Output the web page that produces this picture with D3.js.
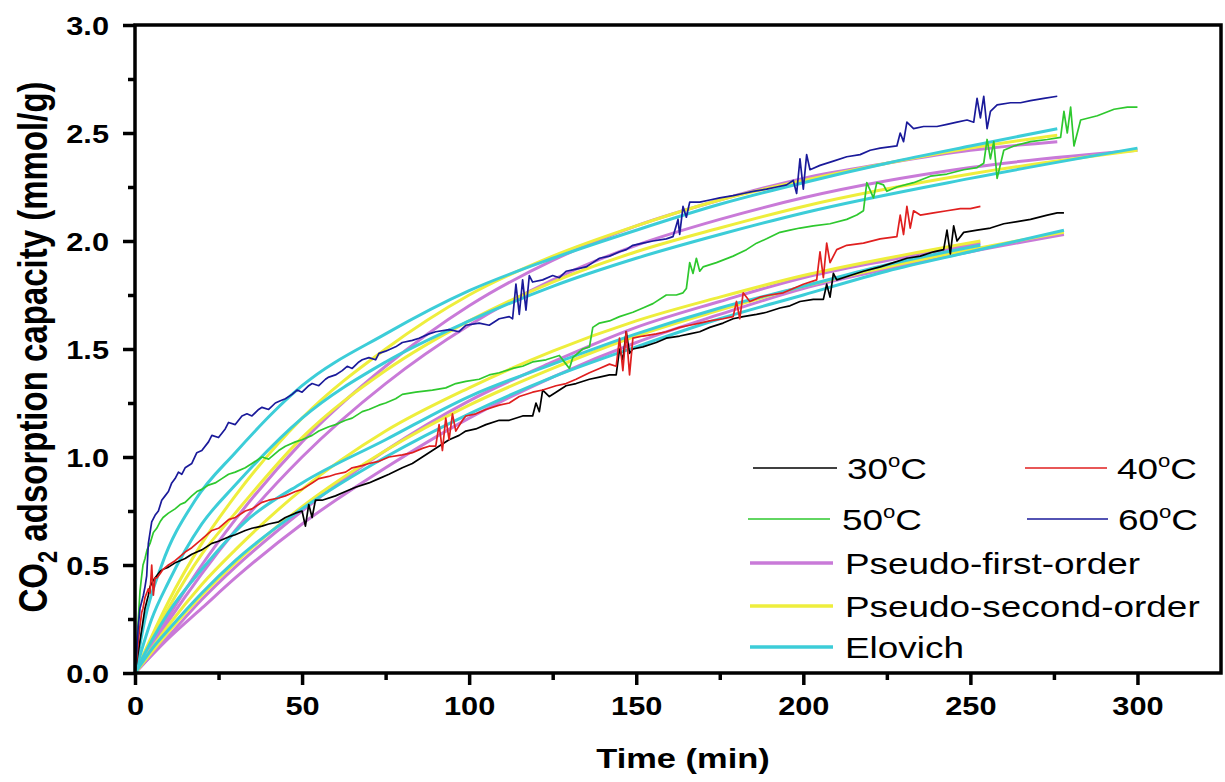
<!DOCTYPE html>
<html>
<head>
<meta charset="utf-8">
<script src="https://cdn.jsdelivr.net/npm/d3@7"></script>
<style>
  html, body { margin: 0; padding: 0; background: #fff; }
  svg { display: block; font-family: 'Liberation Sans', Arial, sans-serif; }
</style>
</head>
<body>
<div id="chart"></div>
<script>
// CO2 adsorption kinetics at four temperatures with three fitted models

// experimental runs, [time (min), capacity (mmol/g)]
let run30 = [[0,0],[0.5,0.05],[1,0.1],[1.5,0.15],[2,0.2],[2.4,0.24],[3,0.3],[4,0.36],[4.5,0.4],[5.5,0.43],[6.5,0.45],[7.5,0.47],[8.4,0.48],[10,0.49],[12,0.51],[13.5,0.52],[15,0.53],[17,0.55],[18.5,0.56],[20,0.57],[23,0.6],[25,0.61],[28,0.63],[30,0.64],[33,0.66],[35,0.67],[38,0.68],[40,0.69],[43,0.7],[45,0.72],[48,0.74],[50,0.75],[51,0.68],[52,0.78],[53,0.72],[54,0.8],[56,0.8],[60,0.82],[63,0.84],[66,0.86],[70,0.88],[73,0.9],[76,0.92],[80,0.95],[83,0.97],[86,1.0],[89,1.03],[92,1.06],[94,1.08],[97,1.1],[99,1.12],[102,1.13],[105,1.15],[109,1.17],[112,1.17],[116,1.19],[119,1.19],[120,1.25],[121,1.21],[122,1.31],[124,1.28],[126,1.3],[129,1.33],[132,1.34],[136,1.36],[139,1.37],[142,1.38],[144,1.38],[145,1.5],[146,1.45],[147,1.58],[148,1.48],[149,1.5],[152,1.51],[156,1.53],[159,1.55],[163,1.56],[166,1.57],[169,1.58],[172,1.6],[176,1.62],[179,1.64],[182,1.65],[186,1.66],[189,1.67],[193,1.69],[196,1.7],[199,1.72],[203,1.73],[206,1.73],[207,1.8],[208,1.74],[209,1.85],[210,1.82],[214,1.84],[218,1.86],[223,1.88],[227,1.9],[231,1.92],[235,1.93],[239,1.95],[242,1.96],[243,2.05],[244,1.94],[245,2.07],[246,2.0],[248,2.04],[252,2.05],[256,2.06],[260,2.08],[264,2.09],[268,2.1],[273,2.12],[276,2.13],[278,2.13]];

let run40 = [[0,0],[0.5,0.06],[1,0.15],[1.5,0.22],[2,0.28],[2.4,0.3],[3,0.35],[4,0.39],[4.5,0.37],[5,0.5],[5.5,0.36],[6,0.44],[6.5,0.44],[7.5,0.46],[8.4,0.48],[10,0.5],[12,0.52],[13.5,0.54],[15,0.56],[17,0.58],[18.5,0.6],[20,0.62],[23,0.66],[25,0.67],[28,0.71],[30,0.72],[33,0.75],[35,0.76],[38,0.79],[40,0.8],[43,0.81],[45,0.82],[48,0.84],[50,0.85],[53,0.88],[55,0.9],[58,0.91],[60,0.92],[63,0.93],[65,0.95],[68,0.96],[70,0.97],[73,0.98],[76,1.0],[80,1.01],[83,1.02],[86,1.04],[88,1.05],[90,1.05],[91,1.15],[92,1.03],[93,1.18],[94,1.08],[95,1.2],[96,1.12],[98,1.17],[99,1.19],[102,1.2],[105,1.22],[109,1.24],[112,1.25],[115,1.28],[119,1.3],[122,1.31],[126,1.33],[129,1.34],[132,1.36],[136,1.39],[139,1.41],[142,1.43],[144,1.42],[145,1.55],[146,1.4],[147,1.58],[148,1.38],[149,1.55],[152,1.56],[156,1.57],[159,1.58],[163,1.6],[166,1.61],[169,1.62],[172,1.63],[176,1.64],[179,1.65],[180,1.72],[181,1.64],[182,1.76],[184,1.72],[187,1.74],[190,1.75],[194,1.76],[197,1.78],[200,1.8],[204,1.82],[205,1.95],[206,1.83],[207,1.99],[208,1.9],[210,1.96],[213,1.98],[218,1.99],[223,2.01],[228,2.02],[229,2.12],[230,2.03],[231,2.16],[232,2.06],[233,2.14],[235,2.12],[239,2.13],[243,2.14],[247,2.15],[250,2.15],[253,2.16]];

let run50 = [[0,0],[0.3,0.05],[0.5,0.13],[1,0.25],[1.5,0.38],[2,0.45],[2.4,0.5],[3,0.53],[3.6,0.57],[4.5,0.6],[5.5,0.65],[6.5,0.67],[7.5,0.7],[8.4,0.72],[10,0.74],[12,0.76],[13.5,0.78],[15,0.79],[17,0.82],[18.5,0.84],[20,0.85],[22,0.87],[24,0.88],[26,0.9],[28,0.92],[30,0.93],[33,0.95],[35,0.97],[38,1.0],[40,0.99],[43,1.03],[45,1.05],[48,1.07],[50,1.08],[53,1.1],[55,1.12],[58,1.14],[60,1.15],[63,1.17],[65,1.18],[68,1.21],[70,1.22],[73,1.24],[75,1.25],[78,1.27],[80,1.29],[84,1.3],[89,1.31],[93,1.32],[96,1.34],[99,1.35],[103,1.36],[106,1.38],[109,1.39],[113,1.41],[116,1.42],[119,1.44],[123,1.45],[127,1.47],[129,1.43],[130,1.41],[131,1.46],[134,1.5],[136,1.51],[137,1.6],[139,1.62],[142,1.63],[145,1.65],[149,1.67],[152,1.69],[155,1.71],[159,1.75],[162,1.75],[164,1.76],[165,1.78],[166,1.9],[167,1.85],[168,1.92],[169,1.86],[170,1.88],[174,1.9],[179,1.93],[183,1.96],[186,1.99],[189,2.01],[193,2.04],[196,2.05],[199,2.06],[203,2.07],[208,2.08],[213,2.1],[216,2.12],[218,2.14],[219,2.27],[221,2.2],[222,2.27],[224,2.26],[225,2.23],[228,2.25],[233,2.27],[238,2.3],[243,2.31],[248,2.33],[252,2.34],[254,2.36],[255,2.47],[256,2.38],[257,2.46],[258,2.29],[260,2.42],[263,2.44],[268,2.46],[273,2.47],[277,2.48],[278,2.6],[279,2.5],[280,2.62],[281,2.44],[283,2.56],[288,2.58],[293,2.61],[297,2.62],[300,2.62]];

let run60 = [[0,0],[0.5,0.1],[1,0.22],[1.5,0.3],[2,0.33],[2.5,0.36],[3,0.4],[3.5,0.45],[4,0.6],[4.5,0.65],[5,0.7],[6,0.73],[7,0.75],[8,0.8],[9,0.82],[10,0.84],[11,0.88],[12,0.9],[13,0.93],[14,0.92],[15,0.95],[17,0.97],[18.5,1.02],[20,1.03],[22,1.07],[23,1.1],[25,1.09],[27,1.13],[28,1.16],[30,1.15],[32,1.19],[33.5,1.2],[35,1.19],[37,1.22],[38,1.23],[40,1.22],[42,1.25],[43.5,1.26],[45,1.27],[47,1.29],[48.5,1.31],[50,1.3],[52,1.33],[53,1.34],[55,1.33],[57,1.36],[58,1.37],[60,1.38],[62,1.4],[63.5,1.42],[65,1.41],[67,1.44],[68,1.45],[70,1.46],[72,1.45],[73,1.48],[75,1.49],[78,1.51],[80,1.53],[83,1.54],[85,1.55],[88,1.57],[90,1.58],[94,1.59],[97,1.58],[99,1.61],[103,1.62],[106,1.61],[109,1.64],[112,1.65],[113,1.64],[114,1.8],[115,1.66],[116,1.82],[117,1.68],[118,1.84],[119,1.81],[122,1.82],[125,1.84],[127,1.83],[129,1.86],[132,1.87],[135,1.88],[137,1.9],[139,1.92],[142,1.93],[145,1.95],[147,1.96],[149,1.98],[152,1.99],[155,2.0],[159,2.01],[161,2.02],[162.5,2.1],[163,2.03],[164,2.16],[165,2.11],[166,2.18],[169,2.18],[172,2.19],[175,2.2],[179,2.21],[182,2.22],[185,2.23],[189,2.24],[192,2.25],[195,2.26],[197,2.28],[198,2.22],[199,2.38],[200,2.24],[201,2.4],[202,2.33],[205,2.35],[209,2.37],[213,2.39],[217,2.4],[220,2.42],[223,2.43],[228,2.44],[229,2.5],[230,2.46],[231,2.55],[233,2.52],[236,2.53],[240,2.53],[243,2.54],[246,2.55],[249,2.56],[251,2.55],[252,2.66],[253,2.57],[254,2.67],[255,2.52],[256,2.6],[258,2.63],[262,2.64],[265,2.64],[268,2.65],[272,2.66],[276,2.67]];

// fitted curves
let pfo30 = [[0,0],[10,0.16],[20,0.3],[30,0.44],[50,0.69],[75,0.95],[100,1.18],[125,1.37],[150,1.53],[175,1.66],[200,1.78],[225,1.87],[250,1.95],[278,2.03]];
let pso30 = [[0,0],[10,0.19],[20,0.36],[30,0.51],[50,0.77],[75,1.03],[100,1.24],[125,1.41],[150,1.56],[175,1.68],[200,1.79],[225,1.88],[250,1.96],[278,2.04]];
let elo30 = [[0,0],[5,0.11],[10,0.2],[20,0.37],[30,0.52],[50,0.76],[75,1.0],[100,1.2],[125,1.37],[150,1.51],[175,1.64],[200,1.75],[225,1.86],[250,1.95],[278,2.05]];

let pfo40 = [[0,0],[10,0.17],[20,0.34],[30,0.49],[50,0.75],[75,1.03],[100,1.26],[125,1.44],[150,1.6],[175,1.72],[200,1.83],[225,1.91],[253,1.99]];
let pso40 = [[0,0],[10,0.22],[20,0.41],[30,0.57],[50,0.85],[75,1.12],[100,1.32],[125,1.49],[150,1.63],[175,1.74],[200,1.84],[225,1.92],[253,2.0]];
let elo40 = [[0,0],[5,0.15],[10,0.28],[20,0.48],[33,0.7],[50,0.88],[75,1.08],[100,1.28],[125,1.43],[150,1.57],[175,1.69],[200,1.79],[225,1.89],[253,1.98]];

let pfo50 = [[0,0],[10,0.24],[20,0.46],[30,0.66],[50,1.0],[75,1.34],[100,1.61],[125,1.82],[150,1.98],[175,2.1],[200,2.2],[250,2.34],[300,2.42]];
let pso50 = [[0,0],[10,0.3],[20,0.55],[30,0.74],[50,1.09],[75,1.4],[100,1.63],[125,1.81],[150,1.95],[175,2.06],[200,2.16],[250,2.31],[300,2.42]];
let elo50 = [[0,0],[5,0.25],[10,0.42],[20,0.69],[30,0.87],[50,1.18],[75,1.44],[100,1.63],[125,1.79],[150,1.92],[175,2.03],[200,2.13],[250,2.29],[300,2.43]];

let pfo60 = [[0,0],[10,0.26],[20,0.5],[30,0.71],[50,1.07],[75,1.42],[100,1.7],[125,1.91],[150,2.07],[175,2.19],[200,2.29],[225,2.36],[250,2.42],[276,2.46]];
let pso60 = [[0,0],[5,0.17],[10,0.33],[20,0.6],[30,0.82],[50,1.18],[75,1.5],[100,1.75],[125,1.93],[150,2.07],[175,2.19],[200,2.28],[225,2.36],[250,2.43],[276,2.49]];
let elo60 = [[0,0],[3,0.25],[8,0.5],[18,0.8],[30,1.02],[50,1.33],[75,1.57],[100,1.77],[125,1.92],[150,2.05],[175,2.17],[200,2.27],[225,2.36],[250,2.44],[276,2.52]];

let xTicks = [0, 50, 100, 150, 200, 250, 300];
let yTicks = [0, 0.5, 1.0, 1.5, 2.0, 2.5, 3.0];
let runLabels = ['30', '40', '50', '60'];
let modelLabels = ['Pseudo-first-order', 'Pseudo-second-order', 'Elovich'];

let runColors = ['#000000', '#e01f1f', '#2ec82e', '#1a1a9a'];
let modelColors = ['#c97ad8', '#eeee3c', '#3ccdd8'];

let runs = [run30, run40, run50, run60];
let fits = [
  [pfo30, pfo40, pfo50, pfo60],
  [pso30, pso40, pso50, pso60],
  [elo30, elo40, elo50, elo60]
];

let width = 1225;
let height = 782;
let stretch = 1.23; // the figure is wider than tall, text is stretched too

let x = d3.scaleLinear().domain([0, 325]).range([135, 1221]);
let y = d3.scaleLinear().domain([0, 3]).range([673, 25]);

let svg = d3.select('#chart').append('svg')
  .attr('width', width)
  .attr('height', height);

let line = d3.line()
  .x(d => x(d[0]))
  .y(d => y(d[1]));

let smooth = d3.line()
  .x(d => x(d[0]))
  .y(d => y(d[1]))
  .curve(d3.curveMonotoneX);

// fits under the measured runs
fits.forEach((group, m) => {
  group.forEach(f => {
    svg.append('path')
      .datum(f)
      .attr('d', smooth)
      .attr('fill', 'none')
      .attr('stroke', modelColors[m])
      .attr('stroke-width', 3);
  });
});

runs.forEach((r, i) => {
  svg.append('path')
    .datum(r)
    .attr('d', line)
    .attr('fill', 'none')
    .attr('stroke', runColors[i])
    .attr('stroke-width', 1.7)
    .attr('stroke-linejoin', 'round');
});

// axes
let xAxis = svg.append('g')
  .attr('transform', 'translate(0,' + y(0) + ')')
  .call(d3.axisBottom(x).tickValues(xTicks).tickSize(12).tickPadding(12).tickFormat(d3.format('d')));

svg.append('g')
  .attr('transform', 'translate(0,' + y(0) + ')')
  .call(d3.axisBottom(x).tickValues([25, 75, 125, 175, 225, 275]).tickSize(7).tickFormat(''));

let yAxis = svg.append('g')
  .attr('transform', 'translate(' + x(0) + ',0)')
  .call(d3.axisLeft(y).tickValues(yTicks).tickSize(12).tickFormat(d3.format('.1f')));

svg.append('g')
  .attr('transform', 'translate(' + x(0) + ',0)')
  .call(d3.axisLeft(y).tickValues([0.25, 0.75, 1.25, 1.75, 2.25, 2.75]).tickSize(7).tickFormat(''));

svg.selectAll('.domain').remove();
svg.selectAll('.tick line').attr('stroke', '#000').attr('stroke-width', 3.5);

xAxis.selectAll('text')
  .attr('font-size', 25)
  .attr('font-weight', 'bold')
  .attr('fill', '#000')
  .attr('transform', 'scale(' + stretch + ',1)');

yAxis.selectAll('text')
  .attr('font-size', 25)
  .attr('font-weight', 'bold')
  .attr('fill', '#000')
  .attr('x', -26 / stretch)
  .attr('dy', '0.36em')
  .attr('transform', 'scale(' + stretch + ',1)');

// frame
svg.append('rect')
  .attr('x', x(0))
  .attr('y', y(3))
  .attr('width', x(325) - x(0))
  .attr('height', y(0) - y(3))
  .attr('fill', 'none')
  .attr('stroke', '#000')
  .attr('stroke-width', 3.5);

// axis titles
svg.append('text')
  .attr('transform', 'translate(683,768) scale(' + stretch + ',1)')
  .attr('text-anchor', 'middle')
  .attr('font-size', 28)
  .attr('font-weight', 'bold')
  .text('Time (min)');

let yTitle = svg.append('text')
  .attr('transform', 'translate(47,347) scale(' + stretch + ',1) rotate(-90)')
  .attr('text-anchor', 'middle')
  .attr('font-size', 33)
  .attr('font-weight', 'bold');
yTitle.append('tspan').text('CO');
yTitle.append('tspan').attr('font-size', 22).attr('dy', 8).text('2');
yTitle.append('tspan').attr('dy', -8).text(' adsorption capacity (mmol/g)');

// legend
let legend = svg.append('g');

let legendText = (tx, ty, label, sup) => {
  let t = legend.append('text')
    .attr('transform', 'translate(' + tx + ',' + (ty + 11) + ') scale(' + stretch + ',1)')
    .attr('font-size', 30)
    .attr('fill', '#000');
  if (sup) {
    t.append('tspan').text(label);
    t.append('tspan').attr('font-size', 18).attr('dy', -12).text('o');
    t.append('tspan').attr('dy', 12).text('C');
  } else {
    t.text(label);
  }
};

let runPos = [[753, 837, 847, 468], [1025, 1107, 1117, 468], [748, 830, 842, 519], [1027, 1108, 1118, 519]];
runLabels.forEach((lab, i) => {
  let p = runPos[i];
  legend.append('line')
    .attr('x1', p[0]).attr('x2', p[1])
    .attr('y1', p[3]).attr('y2', p[3])
    .attr('stroke', runColors[i])
    .attr('stroke-width', 1.5);
  legendText(p[2], p[3], lab, true);
});

let modelRows = [563, 606, 647];
modelLabels.forEach((lab, m) => {
  legend.append('line')
    .attr('x1', 750).attr('x2', 833)
    .attr('y1', modelRows[m]).attr('y2', modelRows[m])
    .attr('stroke', modelColors[m])
    .attr('stroke-width', 3.5);
  legendText(845, modelRows[m], lab, false);
});
</script>
</body>
</html>
